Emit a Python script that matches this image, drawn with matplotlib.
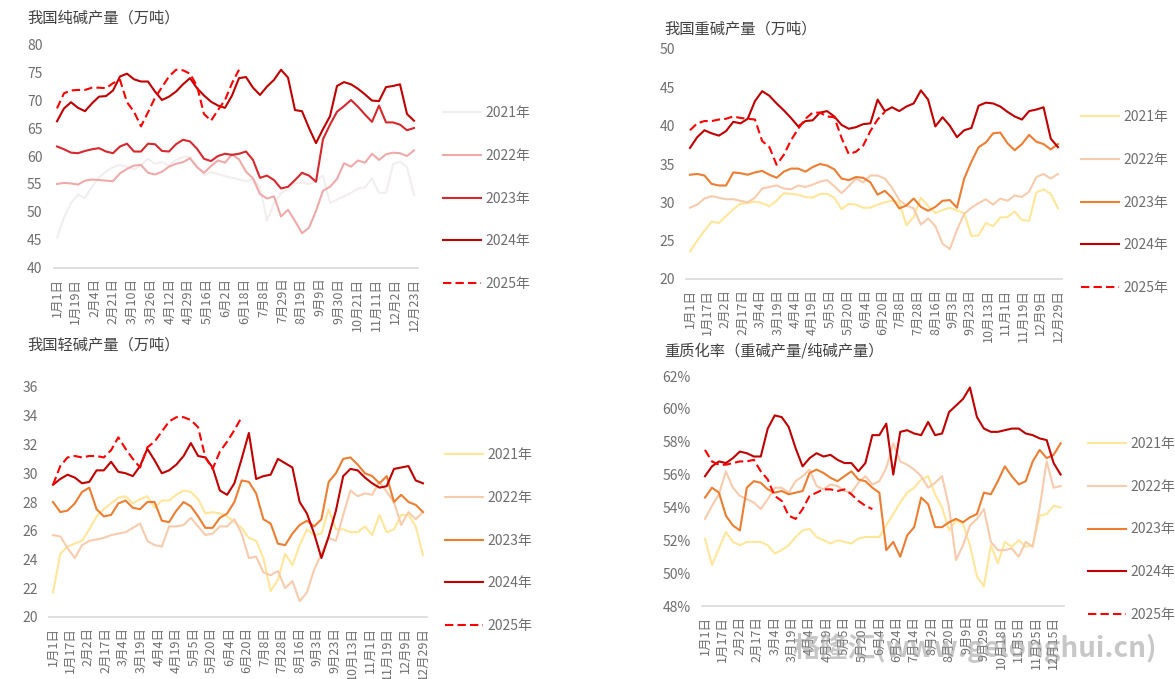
import numpy as np
import matplotlib
matplotlib.use('Agg')
import matplotlib.pyplot as plt

plt.rcParams['font.family'] = ['Noto Sans CJK SC', 'DejaVu Sans']

# ---------------- data ----------------
years = ['2021年', '2022年', '2023年', '2024年', '2025年']

# Panel 1: 纯碱产量
soda_labels = ['1月1日', '1月19日', '2月4日', '2月21日', '3月10日', '3月26日', '4月12日', '4月29日',
               '5月16日', '6月2日', '6月18日', '7月8日', '7月29日', '8月19日', '9月9日', '9月30日',
               '10月21日', '11月11日', '12月2日', '12月23日']
soda_2021 = [45.4, 49.0, 51.6, 53.1, 52.5, 54.5, 56.2, 57.2, 58.0, 58.4, 58.1, 57.6, 58.4, 59.5, 58.6, 58.9,
             58.3, 59.3, 59.8, 59.9, 58.3, 56.6, 57.1, 56.8, 56.4, 56.1, 55.8, 55.5, 55.8, 54.4, 48.5, 51.5,
             53.4, 54.0, 55.2, 55.2, 55.0, 55.5, 56.5, 51.6, 52.2, 52.8, 53.4, 54.2, 54.4, 56.0, 53.4, 53.4,
             58.5, 59.0, 58.0, 53.0]
soda_2022 = [55.0, 55.2, 55.1, 54.9, 55.6, 55.8, 55.7, 55.6, 55.5, 56.9, 57.7, 58.3, 58.4, 57.0, 56.7, 57.2,
             58.1, 58.6, 58.9, 59.6, 58.0, 57.0, 58.2, 59.2, 58.8, 60.3, 59.4, 57.2, 56.0, 53.2, 52.4, 52.8,
             49.2, 50.4, 48.4, 46.2, 47.2, 50.2, 53.8, 54.5, 55.9, 58.7, 58.1, 59.2, 58.8, 60.4, 59.3, 60.3,
             60.6, 60.5, 60.0, 61.0]
soda_2023 = [61.7, 61.2, 60.6, 60.5, 60.9, 61.2, 61.4, 60.8, 60.5, 61.7, 62.2, 60.8, 60.8, 62.2, 62.1, 60.9,
             60.8, 62.1, 62.9, 62.6, 61.3, 59.5, 59.1, 60.0, 60.4, 60.2, 60.4, 60.8, 59.3, 56.1, 56.5, 55.7,
             54.2, 54.5, 55.7, 57.0, 56.5, 55.4, 63.0, 65.6, 67.9, 68.9, 70.0, 68.8, 67.4, 66.1, 69.0, 66.0,
             66.0, 65.6, 64.6, 65.0]
soda_2024 = [66.2, 68.5, 69.6, 68.6, 68.0, 69.4, 70.6, 70.7, 71.7, 74.2, 74.7, 73.7, 73.3, 73.3, 71.5, 70.0,
             70.6, 71.5, 72.8, 73.9, 72.1, 70.8, 69.7, 69.0, 68.6, 70.8, 73.9, 74.1, 72.2, 70.9, 72.4, 73.6,
             75.4, 74.0, 68.2, 68.0, 65.0, 62.3, 64.8, 67.1, 72.5, 73.2, 72.8, 72.0, 71.0, 69.9, 69.8, 72.3,
             72.5, 72.8, 67.5, 66.3]
soda_2025 = [68.5, 71.2, 71.7, 71.8, 71.8, 72.2, 72.2, 72.1, 73.0, 73.6, 69.6, 67.9, 65.3, 67.8, 70.4, 72.3,
             74.2, 75.4, 75.3, 74.7, 72.5, 67.5, 66.3, 68.2, 70.0, 73.0, 75.4]

# Panel 2: 重碱产量
dense_labels = ['1月1日', '1月17日', '2月2日', '2月17日', '3月4日', '3月19日', '4月4日', '4月19日',
                '5月5日', '5月20日', '6月4日', '6月20日', '7月8日', '7月28日', '8月16日', '9月3日',
                '9月23日', '10月13日', '11月1日', '11月19日', '12月9日', '12月29日']
dense_2021 = [23.6, 25.0, 26.3, 27.5, 27.3, 28.2, 29.1, 29.8, 29.9, 30.1, 29.9, 29.5, 30.2, 31.2, 31.1, 31.0,
              30.7, 30.6, 31.1, 31.1, 30.6, 29.1, 29.8, 29.7, 29.3, 29.3, 29.7, 30.0, 30.2, 30.0, 27.0, 28.1,
              30.6, 29.5, 28.6, 29.0, 29.3, 28.9, 28.6, 25.6, 25.7, 27.3, 26.9, 28.0, 28.1, 28.8, 27.7, 27.6,
              31.3, 31.7, 31.1, 29.2]
dense_2022 = [29.3, 29.7, 30.5, 30.8, 30.6, 30.4, 30.4, 30.2, 30.0, 30.6, 31.8, 32.0, 32.2, 31.8, 31.7, 32.2,
              32.0, 32.3, 32.7, 32.9, 32.1, 31.2, 32.1, 33.1, 32.6, 33.5, 33.5, 33.1, 31.9, 30.3, 29.6, 29.2,
              27.1, 27.9, 26.9, 24.6, 23.9, 26.4, 28.5, 29.3, 29.9, 30.4, 29.7, 30.5, 30.2, 30.9, 30.7, 31.4,
              33.3, 33.7, 33.1, 33.7]
dense_2023 = [33.6, 33.7, 33.5, 32.4, 32.2, 32.2, 33.9, 33.8, 33.6, 33.9, 34.1, 33.6, 33.2, 34.0, 34.4, 34.4,
              34.0, 34.6, 35.0, 34.8, 34.3, 33.1, 32.9, 33.3, 33.2, 32.6, 31.0, 31.5, 30.6, 29.2, 29.6, 30.5,
              29.4, 28.9, 29.4, 30.2, 30.3, 29.3, 33.1, 35.3, 37.2, 37.8, 39.0, 39.1, 37.7, 36.8, 37.6, 38.8,
              37.9, 37.6, 36.9, 37.6]
dense_2024 = [37.1, 38.5, 39.4, 39.0, 38.7, 39.3, 40.5, 40.3, 40.9, 43.2, 44.5, 43.9, 42.9, 42.0, 41.0, 39.9,
              40.6, 40.7, 41.7, 41.9, 41.2, 40.1, 39.6, 39.8, 40.2, 40.3, 43.4, 41.9, 42.4, 41.9, 42.5, 42.9,
              44.6, 43.4, 39.9, 41.1, 40.0, 38.5, 39.4, 39.7, 42.6, 43.0, 42.9, 42.5, 41.8, 41.2, 40.8, 41.9,
              42.1, 42.4, 38.3, 37.2]
dense_2025 = [39.4, 40.3, 40.6, 40.6, 40.8, 40.9, 41.2, 41.0, 40.9, 40.8, 38.0, 37.2, 34.9, 36.2, 38.1, 39.6,
              40.9, 41.7, 41.7, 41.2, 41.1, 38.4, 36.3, 36.6, 37.4, 39.3, 40.8, 41.8]

# Panel 3: 轻碱产量
light_labels = dense_labels
light_2021 = [21.7, 24.4, 24.9, 25.1, 25.3, 26.1, 27.0, 27.5, 27.9, 28.3, 28.4, 27.9, 28.2, 28.4, 27.6, 28.1,
              28.1, 28.5, 28.8, 28.7, 28.2, 27.2, 27.3, 27.2, 27.0, 26.6, 26.2, 25.5, 25.3, 24.1, 21.8, 22.6,
              24.4, 23.6, 25.0, 26.1, 25.7, 25.8, 27.5, 26.1, 26.1, 25.9, 25.9, 26.3, 25.7, 27.1, 25.9, 26.1,
              27.1, 27.1, 26.3, 24.3]
light_2022 = [25.7, 25.6, 24.8, 24.1, 25.0, 25.3, 25.4, 25.5, 25.7, 25.8, 25.9, 26.2, 26.5, 25.3, 25.0, 24.9,
              26.3, 26.3, 26.4, 26.9, 26.3, 25.7, 25.8, 26.3, 26.3, 26.8, 25.8, 24.1, 24.2, 23.1, 22.9, 23.2,
              22.0, 22.5, 21.1, 21.7, 23.3, 24.4, 25.5, 25.3, 27.1, 28.8, 28.4, 28.6, 28.5, 29.4, 28.7, 28.0,
              26.4, 27.3, 26.8, 27.3]
light_2023 = [28.0, 27.3, 27.4, 27.9, 28.7, 29.0, 27.5, 27.0, 27.1, 27.9, 28.1, 27.6, 27.5, 28.0, 28.0, 26.7,
              26.6, 27.4, 28.0, 27.7, 27.0, 26.2, 26.2, 26.9, 27.2, 28.0, 29.5, 29.4, 28.6, 26.8, 26.5, 25.1,
              25.0, 25.8, 26.4, 26.7, 26.3, 26.8, 29.4, 30.0, 31.0, 31.1, 30.6, 30.0, 29.8, 29.3, 29.8, 28.0,
              28.5, 28.0, 27.8, 27.3]
light_2024 = [29.2, 29.6, 29.9, 29.7, 29.3, 29.4, 30.2, 30.2, 30.8, 30.1, 30.0, 29.8, 30.5, 31.7, 30.9, 30.0,
              30.2, 30.6, 31.2, 32.1, 31.2, 31.1, 30.4, 28.8, 28.5, 29.3, 31.0, 32.8, 29.6, 29.8, 29.9, 31.0,
              30.7, 30.4, 28.0, 27.2, 25.8, 24.1, 25.6, 27.4, 29.8, 30.3, 30.2, 29.7, 29.3, 29.0, 29.1, 30.3,
              30.4, 30.5, 29.5, 29.3]
light_2025 = [29.2, 30.5, 31.1, 31.2, 31.1, 31.2, 31.2, 31.1, 31.6, 32.5, 31.7, 31.0, 30.4, 31.8, 32.2, 32.9,
              33.6, 33.9, 33.9, 33.7, 33.2, 31.1, 30.3, 31.5, 32.2, 33.0, 33.9]

# Panel 4: 重质化率 (%)
ratio_labels = ['1月1日', '1月17日', '2月2日', '2月17日', '3月4日', '3月19日', '4月4日', '4月19日',
                '5月5日', '5月20日', '6月4日', '6月24日', '7月14日', '8月2日', '8月20日', '9月9日',
                '9月29日', '10月18日', '11月5日', '11月25日', '12月15日']
ratio_2021 = [52.1, 50.5, 51.5, 52.5, 51.9, 51.7, 51.9, 51.9, 51.9, 51.7, 51.2, 51.4, 51.7, 52.2, 52.6, 52.7,
              52.2, 52.0, 51.8, 52.0, 51.9, 51.8, 52.1, 52.2, 52.2, 52.2, 52.9, 53.6, 54.3, 54.9, 55.2, 55.7,
              55.9, 54.8, 54.0, 52.6, 53.2, 53.0, 51.7, 49.8, 49.2, 51.7, 50.6, 51.9, 51.6, 52.0, 51.6, 51.7,
              53.5, 53.6, 54.1, 54.0]
ratio_2022 = [53.3, 54.1, 54.8, 56.2, 55.2, 54.7, 54.5, 54.3, 53.9, 54.5, 55.2, 55.2, 54.9, 55.6, 55.9, 56.3,
              55.3, 55.1, 55.4, 55.3, 55.0, 54.9, 55.5, 55.9, 55.4, 55.6, 56.4, 57.9, 56.8, 56.6, 56.3, 55.9,
              55.2, 55.5, 55.9, 54.0, 50.8, 51.7, 52.9, 53.3, 53.9, 51.9, 51.4, 51.4, 51.5, 51.0, 51.9, 51.6,
              54.0, 56.8, 55.2, 55.3]
ratio_2023 = [54.6, 55.2, 54.9, 53.5, 52.9, 52.6, 55.2, 55.6, 55.5, 55.1, 54.9, 55.0, 54.8, 54.9, 55.0, 56.1,
              56.3, 56.1, 55.8, 55.6, 55.9, 56.2, 55.7, 55.6, 55.2, 54.9, 51.4, 51.9, 51.0, 52.3, 52.8, 54.6,
              54.2, 52.8, 52.8, 53.1, 53.3, 53.1, 53.4, 53.6, 54.9, 54.8, 55.6, 56.5, 55.9, 55.4, 55.6, 56.8,
              57.5, 57.0, 57.2, 57.9]
ratio_2024 = [55.9, 56.5, 56.8, 56.7, 57.0, 57.4, 57.3, 57.1, 57.1, 58.8, 59.6, 59.5, 58.9, 57.6, 56.5, 57.0,
              57.3, 57.1, 57.2, 56.9, 56.7, 56.7, 56.2, 56.7, 58.4, 58.4, 59.1, 56.0, 58.6, 58.7, 58.5, 58.4,
              59.2, 58.4, 58.5, 59.8, 60.2, 60.6, 61.3, 59.5, 58.8, 58.6, 58.6, 58.7, 58.8, 58.8, 58.5, 58.4,
              58.2, 58.1, 56.7, 56.0]
ratio_2025 = [57.5, 56.8, 56.6, 56.6, 56.7, 56.8, 56.8, 56.9, 56.2, 55.7, 54.7, 54.4, 53.5, 53.3, 53.9, 54.7,
              54.9, 55.1, 55.1, 55.0, 55.1, 54.8, 54.4, 54.1, 53.9]

colors_soda = ['#f2eeee', '#f0a9a9', '#d7282d', '#c00000', '#ff0000']
colors_other = ['#ffe699', '#f8cbad', '#ed7d31', '#c00000', '#ff0000']

# ---------------- drawing ----------------
W, H = 1175, 679
fig = plt.figure(figsize=(W / 100, H / 100), dpi=100)

TICK_C = '#6e6e6e'
TITLE_C = '#404040'


def add_ax(l, t, r, b):
    return fig.add_axes([l / W, 1 - b / H, (r - l) / W, (b - t) / H])


def draw_panel(box, series, colors, ylim, ystep, xlabels, xticks, title, title_xy,
               legend_xy, pct=False, n=52):
    ax = add_ax(*box)
    for name, vals, c in zip(years, series, colors):
        ls = (0, (4, 2)) if name == '2025年' else '-'
        ax.plot(np.arange(len(vals)), vals, color=c, lw=1.5, ls=ls, label=name,
                solid_joinstyle='round')
    ax.set_xlim(-0.5, n - 0.5)
    ax.set_ylim(*ylim)
    yt = np.arange(ylim[0], ylim[1] + 0.001, ystep)
    ax.set_yticks(yt)
    if pct:
        ax.set_yticklabels([f'{v:.0f}%' for v in yt])
    else:
        ax.set_yticklabels([f'{v:.0f}' for v in yt])
    ax.set_xticks(xticks)
    ax.set_xticklabels(xlabels, rotation=90)
    for s in ['top', 'right', 'left']:
        ax.spines[s].set_visible(False)
    ax.spines['bottom'].set_color('#d9d9d9')
    ax.spines['bottom'].set_linewidth(1.2)
    ax.tick_params(axis='both', length=0, colors=TICK_C)
    ax.tick_params(axis='y', labelsize=10, pad=8)
    ax.tick_params(axis='x', labelsize=9, pad=7)
    fig.text(title_xy[0] / W, 1 - title_xy[1] / H, title, ha='left', va='center',
             fontsize=11, color=TITLE_C)
    leg = ax.legend(loc='upper left', bbox_to_anchor=(legend_xy[0] / W, 1 - legend_xy[1] / H),
                    bbox_transform=fig.transFigure, frameon=False, fontsize=10,
                    labelspacing=2.07, handlelength=2.7, handletextpad=0.35,
                    borderpad=0, borderaxespad=0)
    for t in leg.get_texts():
        t.set_color(TICK_C)
    return ax


draw_panel((53.5, 44, 417.5, 268),
           [soda_2021, soda_2022, soda_2023, soda_2024, soda_2025], colors_soda,
           (40, 80), 5, soda_labels, np.linspace(0, 51, len(soda_labels)),
           '我国纯碱产量（万吨）', (27, 18), (443, 106))

draw_panel((686.4, 49, 1061.6, 279),
           [dense_2021, dense_2022, dense_2023, dense_2024, dense_2025], colors_other,
           (20, 50), 5, dense_labels, np.linspace(0, 51, len(dense_labels)),
           '我国重碱产量（万吨）', (664, 29), (1081, 110))

draw_panel((49.4, 387, 426.6, 617),
           [light_2021, light_2022, light_2023, light_2024, light_2025], colors_other,
           (20, 36), 2, light_labels, np.linspace(0, 51, len(light_labels)),
           '我国轻碱产量（万吨）', (27, 345), (445, 448))

draw_panel((701.5, 376, 1064.1, 606),
           [ratio_2021, ratio_2022, ratio_2023, ratio_2024, ratio_2025], colors_other,
           (48, 62), 2, ratio_labels, np.arange(len(ratio_labels)) * 2.5,
           '重质化率（重碱产量/纯碱产量）', (664, 351), (1088, 437), pct=True)

fig.text(1157 / W, 1 - 648 / H, '格隆汇(www.gelonghui.cn)', ha='right', va='center',
         fontsize=20, fontweight='bold', color='#9a9a9a', alpha=0.55)

fig.savefig('out.png', dpi=100)
